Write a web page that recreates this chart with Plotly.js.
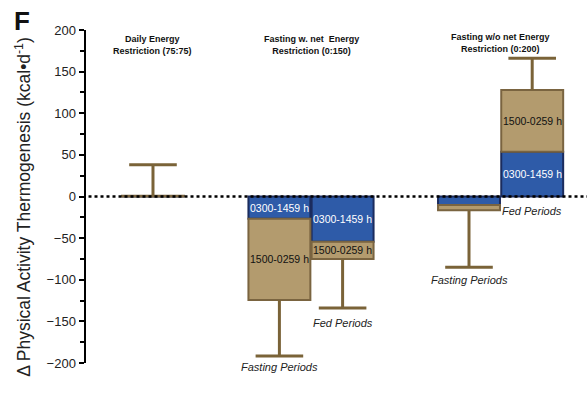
<!DOCTYPE html>
<html>
<head>
<meta charset="utf-8">
<script src="https://cdn.plot.ly/plotly-3.0.1.min.js"></script>
<style>html,body{margin:0;padding:0;background:#fff;}#chart{width:587px;height:409px;}</style>
</head>
<body>
<div id="chart"></div>
<script>
// ---- data ----
var groupTitles = ["Daily Energy<br>Restriction (75:75)", "Fasting w. net  Energy<br>Restriction (0:150)", "Fasting w/o net Energy<br>Restriction (0:200)"];
var barNames = ["DER", "FastNet Fasting", "FastNet Fed", "FastNoNet Fasting", "FastNoNet Fed"];
var periodLabels = ["", "Fasting Periods", "Fed Periods", "Fasting Periods", "Fed Periods"];
var morningName = "0300-1459 h";
var eveningName = "1500-0259 h";
var morningValues = [0, -26.7, -54.3, -10.2, 53.8];
var eveningValues = [1, -97.6, -20.8, -6.4, 74.1];
var errorUp = [37, 0, 0, 0, 38.1];
var errorDown = [0, 67.3, 58.8, 68.4, 0];
var morningLabelShown = [false, true, true, false, true];
var eveningLabelShown = [false, true, true, false, true];
var yTickVals = [-200, -150, -100, -50, 0, 50, 100, 150, 200];
var yTitle = '\u0394 Physical Activity Thermogenesis (kcal\u2022d<sup>-1</sup>)';

// ---- layout helpers (positions) ----
var barX = [1, 3, 4, 6, 7];
var groupX = [1, 3.5, 6.5];
var periodLabelY = [null, -205, -152, -100, -17.4];
var yRange = [-200, 200];

var totals = morningValues.map(function (v, i) { return v + eveningValues[i]; });
var whiskerEnds = totals.map(function (t, i) { return t + errorUp[i] - errorDown[i]; });

var blue = '#2e5ba8', blueLine = '#1b2c5e';
var tan = '#b39b6e', tanLine = '#7a6440';
var errColor = '#7a6338';
var font = 'Liberation Sans, Arial, sans-serif';

var traces = [
  {
    type: 'bar', name: morningName, x: barX, y: morningValues, width: 0.98,
    marker: {color: blue, line: {color: blueLine, width: 2}}, hoverinfo: 'skip'
  },
  {
    type: 'bar', name: eveningName, x: barX, y: eveningValues, width: 0.98,
    marker: {color: tan, line: {color: tanLine, width: 2}}, hoverinfo: 'skip'
  },
  {
    // whiskers (no caps at the bar end)
    type: 'scatter', mode: 'markers', x: barX, y: totals,
    marker: {size: 1, opacity: 0}, hoverinfo: 'skip',
    error_y: {type: 'data', symmetric: false, array: errorUp, arrayminus: errorDown,
      color: errColor, thickness: 3, width: 0}
  },
  {
    // caps at the whisker ends
    type: 'scatter', mode: 'markers', x: barX, y: whiskerEnds, hoverinfo: 'skip',
    marker: {symbol: 'line-ew', size: 34, color: errColor, line: {color: errColor, width: 3}}
  }
];

var annotations = [];
annotations.push({xref: 'paper', yref: 'paper', x: -0.128, y: 1.027, text: '<b>F</b>', showarrow: false,
  font: {family: font, size: 26, color: '#111'}, xanchor: 'center', yanchor: 'middle'});
annotations.push({xref: 'paper', yref: 'paper', x: -0.125, y: 0.47, text: yTitle, textangle: -90, showarrow: false,
  font: {family: font, size: 17.5, color: '#222'}, xanchor: 'center', yanchor: 'middle'});
groupTitles.forEach(function (t, i) {
  annotations.push({xref: 'x', yref: 'paper', x: groupX[i], y: i === 2 ? 0.962 : 0.955, text: '<b>' + t.replace('<br>', '</b><br><b>') + '</b>', showarrow: false,
    font: {family: 'Liberation Sans Narrow, Arial Narrow, ' + font, size: 9, color: '#111'},
    xanchor: 'center', yanchor: 'middle'});
});
barX.forEach(function (x, i) {
  if (morningLabelShown[i]) {
    annotations.push({x: x, y: morningValues[i] / 2, text: morningName, showarrow: false,
      font: {family: font, size: 10.5, color: '#ffffff'}, xanchor: 'center', yanchor: 'middle'});
  }
  if (eveningLabelShown[i]) {
    annotations.push({x: x, y: morningValues[i] + eveningValues[i] / 2, text: eveningName, showarrow: false,
      font: {family: font, size: 10.5, color: '#111'}, xanchor: 'center', yanchor: 'middle'});
  }
  if (periodLabels[i]) {
    annotations.push({x: x, xref: 'x', yref: 'paper',
      y: (periodLabelY[i] - yRange[0]) / (yRange[1] - yRange[0]),
      text: '<i>' + periodLabels[i] + '</i>', showarrow: false,
      font: {family: font, size: 11, color: '#222'}, xanchor: 'center', yanchor: 'middle'});
  }
});

var layout = {
  width: 587, height: 409,
  margin: {l: 86, r: 0, t: 30, b: 46},
  paper_bgcolor: '#fff', plot_bgcolor: '#fff',
  barmode: 'relative',
  showlegend: false,
  xaxis: {visible: false, range: [-0.06, 7.867], fixedrange: true},
  yaxis: {
    range: yRange, tickvals: yTickVals, showgrid: false, zeroline: false,
    showline: true, linecolor: '#000', linewidth: 2.5,
    ticks: 'outside', ticklen: 5, tickwidth: 2, tickcolor: '#000',
    minor: {dtick: 25, tick0: 0, ticks: 'outside', ticklen: 4, tickwidth: 2, tickcolor: '#000'},
    tickfont: {family: font, size: 13, color: '#222'},
    automargin: false
  },
  shapes: [{type: 'line', xref: 'paper', yref: 'y', x0: 0.005, x1: 1, y0: 0, y1: 0,
    line: {color: '#000', width: 2.5, dash: 'dot'}, layer: 'above'}],
  annotations: annotations
};

Plotly.newPlot('chart', traces, layout, {staticPlot: true, displayModeBar: false});
</script>
</body>
</html>
